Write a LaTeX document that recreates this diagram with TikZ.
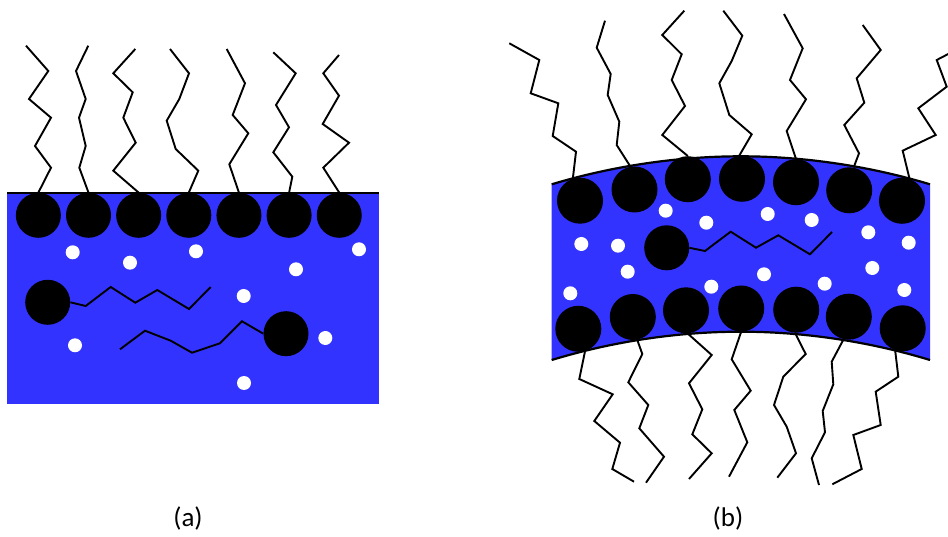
\documentclass[tikz,border=0pt]{standalone}
\usepackage{fontspec}
\setmainfont{Carlito}
\usepackage{tikz}
\usepackage{xcolor}
\definecolor{water}{HTML}{3333FF}
\tikzset{
  head/.style={circle,fill=black,inner sep=0pt,minimum size=45pt},
  bighead/.style={head,minimum size=46pt},
  tail/.style={draw=black,line width=1.9pt,line join=miter},
  surface/.style={draw=black,line width=2.2pt},
  dot/.style={fill=white},
  tag/.style={font=\fontsize{27}{32}\selectfont,inner sep=0pt}
}

\begin{document}
\begin{tikzpicture}[x=1pt,y=-1pt]
  \useasboundingbox (0,0) rectangle (948,537);

  % (a) flat monolayer on water
  \fill[water] (7,192.7) rectangle (379.3,404);
  \draw[surface] (7,192.7) -- (379.3,192.7);
  \foreach \i in {1,...,7}
    \node[head] (a\i) at ({-11.8+50.15*\i},215.3) {};
  \draw[tail] (a1.north) -- (51,167.7) -- (35,146) -- (51,117.7) -- (29,99) -- (48.3,71) -- (26,45.7);
  \draw[tail] (a2.north) -- (79.3,167.7) -- (85.7,146) -- (79,117.7) -- (85.7,99) -- (76,71) -- (88.3,45.7);
  \draw[tail] (a3.north) -- (113.3,170.7) -- (135.7,142.7) -- (123.3,117.7) -- (132.7,92.3) -- (113.3,73.3) -- (135.3,49);
  \draw[tail] (a4.north) -- (198.3,170.7) -- (175.7,149) -- (166.7,120.7) -- (179.3,99) -- (189,73.3) -- (170,49);
  \draw[tail] (a5.north) -- (229.3,164.3) -- (248.3,133.3) -- (232.7,115) -- (245,83.3) -- (226.7,49);
  \draw[tail] (a6.north) -- (292.3,176.7) -- (273.3,152.3) -- (289,127.3) -- (276,105) -- (295.7,73.3) -- (273.3,52.3);
  \draw[tail] (a7.north) -- (323.3,167.7) -- (349,142.7) -- (322.7,124) -- (339,95.7) -- (323.3,73.3) -- (339,55);

  \node[head] (fa) at (47.7,302.3) {};
  \draw[tail] (fa.east) -- (85.7,306) -- (110.7,287) -- (135.3,302.7) -- (157.3,290) -- (189,309) -- (210.7,287);
  \node[head] (fb) at (286,333.7) {};
  \draw[tail] (fb.west) -- (242,321.3) -- (220,343.3) -- (192,352.7) -- (170.7,340.7) -- (145,330.7) -- (120,349.3);

  \foreach \p in {(72.7,252.3),(130,262.7),(196,251.3),(359,249.3),(296,269.3),
                  (243.7,296),(75,345.3),(325.3,338),(244,383)}
    \fill[dot] \p circle (7pt);

  % (b) curved bilayer
  \fill[water] (551.7,184.3) parabola bend (740.8,156.3) (930,184.3)
    -- (930,360) parabola bend (740.8,331.7) (551.7,360) -- cycle;
  \draw[surface] (551.7,184.3) parabola bend (740.8,156.3) (930,184.3);
  \draw[surface] (551.7,360) parabola bend (740.8,331.7) (930,360);

  \foreach \n/\x/\y in {1/580/200.7,2/634.5/189.5,3/687.8/179.2,4/742/178.8,
                        5/796/182.2,6/849.2/190.3,7/902/200.8}
    \node[bighead] (t\n) at (\x,\y) {};
  \foreach \n/\x/\y in {1/578.3/328.8,2/632.8/317,3/686/310.3,4/741.2/308.5,
                        5/796.2/309.7,6/848.8/316.7,7/902.7/328.3}
    \node[bighead] (u\n) at (\x,\y) {};

  \draw[tail] (t1.108) -- (576,151.7) -- (552.7,136) -- (558.3,103.3) -- (530.7,93.3) -- (539.3,60) -- (509.3,43.3);
  \draw[tail] (t2.100) -- (616.7,145) -- (619.3,121.7) -- (607.7,95) -- (610.7,74) -- (596.7,47.7) -- (605,20.7);
  \draw[tail] (t3.north) -- (662.3,135) -- (685,106) -- (671.7,80) -- (681.7,54.3) -- (662.3,35) -- (684.3,10.7);
  \draw[tail] (t4.97) -- (751.7,134.3) -- (729.3,115) -- (719.3,83.3) -- (731.7,61) -- (742.3,35.7) -- (723.3,10.7);
  \draw[tail] (t5.north) -- (786.7,131) -- (806,99.3) -- (790,80) -- (802.7,48.3) -- (784,14);
  \draw[tail] (t6.79) -- (859,153.3) -- (844.3,125) -- (864.3,102.7) -- (856.7,78.3) -- (880.7,50) -- (862.7,25);
  \draw[tail] (t7.71) -- (902.7,150.7) -- (935.7,135) -- (918.3,108.3) -- (946.7,86.7) -- (936.7,60) -- (954,51);

  \draw[tail] (u1.-73) -- (579.3,379) -- (612.7,394.3) -- (594.3,421) -- (620,442.7) -- (612.3,469) -- (634,481.7);
  \draw[tail] (u2.-79) -- (642.3,354) -- (628.3,382.3) -- (648.3,405) -- (639.3,428.3) -- (664,456.7) -- (646,482.7);
  \draw[tail] (u3.-86) -- (711.7,355) -- (689,383.3) -- (702.3,409.3) -- (692.3,434.3) -- (711.7,453.3) -- (689,479);
  \draw[tail] (u4.south) -- (731.7,359.3) -- (750.7,390.7) -- (734.3,410) -- (747.3,442.3) -- (729,476.7);
  \draw[tail] (u5.-93) -- (805.7,354) -- (783.3,376.7) -- (774,405) -- (786.7,426.7) -- (796,453.3) -- (777.3,477.7);
  \draw[tail] (u6.-103) -- (831.7,361.7) -- (833.3,384.3) -- (822.7,411) -- (825,432.3) -- (811.7,458.3) -- (819,485);
  \draw[tail] (u7.-109) -- (898.3,376.7) -- (875.7,391.7) -- (880.7,425) -- (853.3,435) -- (861.7,469) -- (832.3,484.3);

  \node[head] (fc) at (666.7,247.8) {};
  \draw[tail] (fc.east) -- (705,251) -- (730.7,231.7) -- (756,247.7) -- (778.3,235.3) -- (810,254.3) -- (832,232);

  \foreach \p in {(665.7,210.7),(706.3,222.7),(767.7,214),(811.7,220),(581.3,244),
                  (618,245.7),(627.7,271.7),(868.3,232.3),(908.7,242.7),(872.3,268),
                  (764,274.3),(824.7,283.7),(711.3,286.7),(570.3,293.3),(904.3,290)}
    \fill[dot] \p circle (7pt);

  \node[tag] (la) at (188,518.7) {(a)};
  \node[tag] (lb) at (728,518.7) {(b)};
\end{tikzpicture}
\end{document}
